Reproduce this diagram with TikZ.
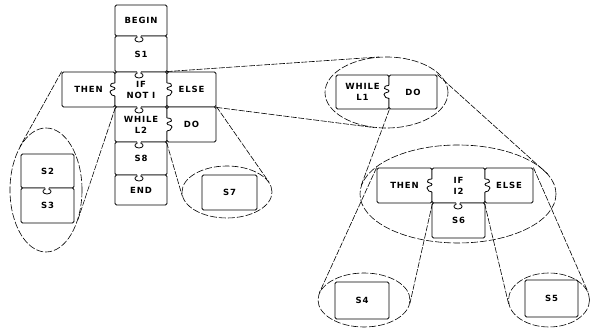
\documentclass[tikz,border=0pt]{standalone}
\usepackage{fontspec}
\usetikzlibrary{shapes.geometric}
\newfontfamily\lblfont[LetterSpace=10]{DejaVu Sans}
\newcommand\hknob[3]{%
  \begin{scope}[shift={(#1,#2)},xscale=#3]
    \fill[white] (-0.7,-6.5) rectangle (0.7,6.5);
    \draw[knob] (0,-6.5) .. controls (4,-6.5) and (5,-5) .. (4.5,-3.5)
      .. controls (4,-2) and (0,-3) .. (0,-1)
      .. controls (0,1) and (5,0) .. (5,2.5)
      .. controls (5,5) and (2,6.5) .. (0,6.5);
  \end{scope}}
\newcommand\vknob[2]{%
  \begin{scope}[shift={(#1,#2)}]
    \fill[white] (-2.2,-0.7) rectangle (2.2,0.7);
    \draw[knob] (-2,0) -- (-2,1.5) .. controls (-5,1.5) and (-5,6) .. (0,6)
      .. controls (5,6) and (5,1.5) .. (2,1.5) -- (2,0);
  \end{scope}}
\begin{document}
\begin{tikzpicture}[x=1pt,y=-1pt,
  pc/.style={draw,line width=0.8pt,rounded corners=1.5pt,fill=white,inner sep=0pt,
    align=center,font=\lblfont\bfseries\fontsize{8.5}{11}\selectfont},
  knob/.style={line width=0.8pt},
  oval/.style={ellipse,draw,inner sep=0pt,line width=0.6pt,dash pattern=on 7pt off 2pt},
  link/.style={line width=0.6pt,dash pattern=on 6pt off 1.5pt}]
\useasboundingbox (0,0) rectangle (590,328);
% ellipses
\node[oval,minimum width=72pt,minimum height=124pt] (eL) at (46,190) {};
\node[oval,minimum width=90pt,minimum height=52pt] (eS7) at (227,192) {};
\node[oval,minimum width=123pt,minimum height=71pt] (eW1) at (386.5,92.5) {};
\node[oval,minimum width=196pt,minimum height=98pt] (eBig) at (458,194) {};
\node[oval,minimum width=92pt,minimum height=54pt] (eS4) at (364,300) {};
\node[oval,minimum width=81pt,minimum height=54pt] (eS5) at (549,300) {};
% main column
\node[pc,minimum width=52pt,minimum height=31pt] (begin) at (141,20.5) {BEGIN};
\node[pc,minimum width=52pt,minimum height=36pt] (s1) at (141,54) {S1};
\node[pc,minimum width=53pt,minimum height=35pt] (then) at (88.5,89.5) {THEN};
\node[pc,minimum width=52pt,minimum height=35pt] (ifnot) at (141,89.5) {IF\\NOT I};
\node[pc,minimum width=49pt,minimum height=35pt] (else) at (191.5,89.5) {ELSE};
\node[pc,minimum width=52pt,minimum height=35pt] (while2) at (141,124.5) {WHILE\\L2};
\node[pc,minimum width=49pt,minimum height=35pt] (do2) at (191.5,124.5) {DO};
\node[pc,minimum width=52pt,minimum height=33pt] (s8) at (141,158.5) {S8};
\node[pc,minimum width=52pt,minimum height=30pt] (end) at (141,190) {END};
% left group
\node[pc,minimum width=53pt,minimum height=34pt] (s2) at (47.5,171) {S2};
\node[pc,minimum width=53pt,minimum height=35pt] (s3) at (47.5,205.5) {S3};
% S7
\node[pc,minimum width=55pt,minimum height=35pt] (s7) at (229.5,192.5) {S7};
% while L1
\node[pc,minimum width=53pt,minimum height=34pt] (while1) at (362.5,92) {WHILE\\L1};
\node[pc,minimum width=48pt,minimum height=34pt] (do1) at (413,92) {DO};
% if I2
\node[pc,minimum width=55pt,minimum height=35pt] (then2) at (404.5,185.5) {THEN};
\node[pc,minimum width=53pt,minimum height=35pt] (if2) at (458.5,185.5) {IF\\I2};
\node[pc,minimum width=48pt,minimum height=35pt] (else2) at (509,185.5) {ELSE};
\node[pc,minimum width=53pt,minimum height=35pt] (s6) at (458.5,220.5) {S6};
% S4, S5
\node[pc,minimum width=54pt,minimum height=37pt] (s4) at (362,300.5) {S4};
\node[pc,minimum width=53pt,minimum height=37pt] (s5) at (551.5,298.5) {S5};
% knobs
\vknob{139}{36}
\vknob{139}{72}
\vknob{139}{107}
\vknob{139}{142}
\vknob{139}{175}
\vknob{47}{188}
\vknob{458}{203}
\hknob{115}{89.5}{-1}
\hknob{167}{89.5}{1}
\hknob{167}{124.5}{1}
\hknob{389}{92}{-1}
\hknob{432}{185.5}{-1}
\hknob{485}{185.5}{1}
% connectors
\draw[link] (then.north west) -- (eL.121);
\draw[link] (then.south east) -- (eL.-44.6);
\draw[link] (do2.north east) -- (eS7.13);
\draw[link] (do2.south west) -- (eS7.185);
\draw[link] (else.north west) -- (eW1.102);
\draw[link] (else.south east) -- (eW1.-110);
\draw[link] (do1.north east) -- (eBig.12);
\draw[link] (while1.south east) -- (eBig.175);
\draw[link] (then2.north west) -- (eS4.171);
\draw[link] (then2.south east) -- (eS4.-4.4);
\draw[link] (else2.south west) -- (eS5.186);
\draw[link] (else2.north east) -- (eS5.11);
\end{tikzpicture}
\end{document}
